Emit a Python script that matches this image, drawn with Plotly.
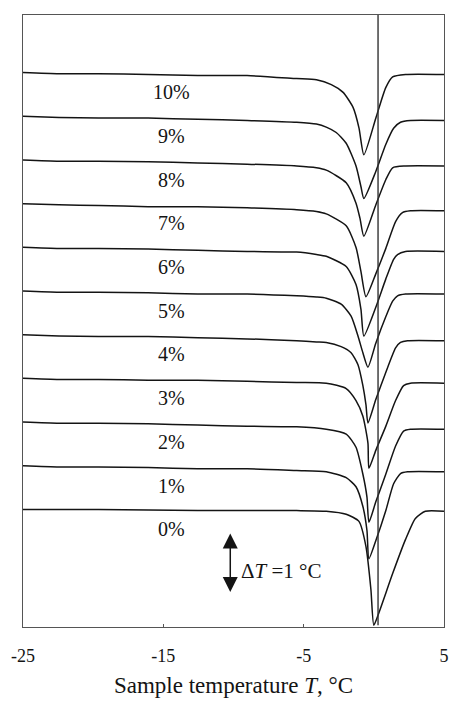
import plotly.graph_objects as go

# Water content of each sample, % (top curve = 10 %)
concentrations = [10, 9, 8, 7, 6, 5, 4, 3, 2, 1, 0]

# Temperature (deg C) and thermal signal dT (deg C, relative to each curve's own baseline)
t_10 = [-25, -22.43, -19.61, -16.08, -12.55, -9.03, -5.50, -4.09, -3.03, -2.19, -1.48, -1.06, -0.71, 0.14, 0.85, 1.34, 2.26, 5.0]
dt_10 = [0, -0.02, -0.02, -0.03, -0.05, -0.05, -0.10, -0.12, -0.20, -0.33, -0.58, -0.92, -1.37, -0.76, -0.25, -0.07, -0.03, -0.03]

t_9 = [-25, -22.43, -19.61, -16.08, -12.55, -9.03, -5.50, -4.09, -3.39, -2.68, -1.97, -1.27, -0.92, -0.71, 0.14, 0.85, 1.41, 1.90, 2.61, 5.0]
dt_9 = [0, -0.02, -0.03, -0.03, -0.05, -0.07, -0.10, -0.13, -0.18, -0.27, -0.45, -0.83, -1.17, -1.37, -0.92, -0.47, -0.20, -0.10, -0.07, -0.07]

t_8 = [-25, -22.43, -19.61, -16.08, -12.55, -9.03, -5.50, -4.09, -3.39, -1.97, -1.27, -0.99, -0.71, 0.14, 0.85, 1.34, 2.26, 5.0]
dt_8 = [0, -0.02, -0.02, -0.03, -0.05, -0.07, -0.10, -0.13, -0.17, -0.38, -0.72, -0.97, -1.27, -0.75, -0.33, -0.13, -0.10, -0.10]

t_7 = [-25, -22.43, -19.61, -16.08, -12.55, -9.03, -5.50, -4.09, -3.39, -1.97, -1.27, -0.92, -0.56, 0.14, 0.85, 1.55, 2.04, 2.61, 5.0]
dt_7 = [0, -0.02, -0.03, -0.05, -0.05, -0.07, -0.10, -0.13, -0.17, -0.37, -0.73, -1.13, -1.55, -1.17, -0.75, -0.30, -0.15, -0.12, -0.12]

t_6 = [-25, -22.43, -19.61, -16.08, -12.55, -9.03, -5.50, -4.09, -3.39, -1.97, -1.27, -0.92, -0.71, 0.14, 0.85, 1.41, 1.69, 2.26, 5.0]
dt_6 = [0, -0.02, -0.02, -0.03, -0.05, -0.07, -0.08, -0.12, -0.15, -0.32, -0.62, -1.03, -1.48, -1.00, -0.53, -0.20, -0.12, -0.07, -0.07]

t_5 = [-25, -22.43, -19.61, -16.08, -12.55, -9.03, -5.50, -4.09, -3.39, -2.33, -1.62, -1.13, -0.78, -0.42, 0.14, 0.85, 1.34, 1.69, 2.26, 5.0]
dt_5 = [0, -0.02, -0.02, -0.03, -0.05, -0.05, -0.08, -0.10, -0.12, -0.22, -0.42, -0.75, -1.03, -1.27, -0.87, -0.43, -0.17, -0.08, -0.05, -0.05]

t_4 = [-25, -22.43, -19.61, -16.08, -12.55, -9.03, -5.50, -4.09, -3.39, -2.33, -1.62, -1.13, -0.78, -0.56, -0.42, 0.14, 0.85, 1.55, 1.90, 2.40, 5.0]
dt_4 = [0, -0.02, -0.03, -0.03, -0.05, -0.07, -0.10, -0.12, -0.13, -0.20, -0.30, -0.50, -0.85, -1.17, -1.47, -1.08, -0.63, -0.22, -0.13, -0.10, -0.10]

t_3 = [-25, -22.43, -19.61, -16.08, -12.55, -9.03, -5.50, -3.39, -1.97, -1.27, -0.78, -0.42, -0.35, 0.14, 0.85, 1.55, 2.12, 2.61, 5.0]
dt_3 = [0, -0.02, -0.02, -0.03, -0.03, -0.05, -0.07, -0.08, -0.17, -0.37, -0.63, -1.08, -1.50, -1.20, -0.80, -0.37, -0.12, -0.08, -0.08]

t_2 = [-25, -22.43, -19.61, -16.08, -12.55, -9.03, -5.50, -3.39, -1.97, -1.27, -0.78, -0.49, -0.35, 0.14, 0.85, 1.55, 2.12, 2.61, 5.0]
dt_2 = [0, -0.02, -0.02, -0.03, -0.05, -0.07, -0.08, -0.12, -0.20, -0.42, -0.87, -1.25, -1.67, -1.33, -0.87, -0.40, -0.15, -0.12, -0.12]

t_1 = [-25, -22.43, -19.61, -16.08, -12.55, -9.03, -5.50, -3.39, -1.97, -1.27, -0.78, -0.49, -0.35, 0.14, 0.85, 1.41, 1.90, 2.40, 5.0]
dt_1 = [0, -0.02, -0.02, -0.03, -0.05, -0.05, -0.08, -0.10, -0.20, -0.35, -0.68, -1.08, -1.55, -1.25, -0.75, -0.30, -0.13, -0.10, -0.10]

t_0 = [-25, -19.61, -12.55, -5.50, -3.39, -1.97, -1.06, -0.56, -0.21, 0.00, 0.35, 1.34, 2.26, 2.96, 3.67, 5.0]
dt_0 = [0, 0, -0.02, -0.02, -0.03, -0.08, -0.20, -0.62, -1.33, -1.93, -1.73, -1.07, -0.50, -0.15, -0.03, -0.03]

temps = [t_10, t_9, t_8, t_7, t_6, t_5, t_4, t_3, t_2, t_1, t_0]
signals = [dt_10, dt_9, dt_8, dt_7, dt_6, dt_5, dt_4, dt_3, dt_2, dt_1, dt_0]

# Axis ticks
x_tickvals = [-25, -15, -5, 5]
x_ticktext = ["-25", "-15", "-5", "5"]

# Reference line temperature and scale bar size
ref_line_T = 0.3
scale_bar_dT = 1.0

# Layout constants
curve_spacing = 0.728        # vertical offset between neighbouring curves, deg C per 1 %
label_T = -14.45             # x position of the % labels
label_drop = 0.33            # label distance under its curve
bar_T = -10.23               # x position of the scale bar
bar_top = -0.377
y_range = [-1.96, 8.24]

serif = "Liberation Serif, Times New Roman, serif"
ink = "#141414"

fig = go.Figure()

for conc, t, s in zip(concentrations, temps, signals):
    offset = conc * curve_spacing
    fig.add_trace(go.Scatter(
        x=t,
        y=[v + offset for v in s],
        mode="lines",
        line=dict(color=ink, width=1.5, shape="spline", smoothing=0.6),
        name=f"{conc}%",
        showlegend=False,
        hoverinfo="skip",
    ))
    fig.add_annotation(
        x=label_T, y=offset - label_drop, text=f"{conc}%",
        showarrow=False, xanchor="center", yanchor="middle",
        font=dict(family=serif, size=20, color=ink),
    )

# Vertical reference line
fig.add_shape(
    type="line", xref="x", yref="y",
    x0=ref_line_T, x1=ref_line_T, y0=min(dt_0), y1=y_range[1],
    line=dict(color="#333333", width=1.4),
)

# Double-headed scale bar for dT = 1 deg C
fig.add_annotation(
    x=bar_T, y=bar_top - scale_bar_dT, ax=bar_T, ay=bar_top,
    xref="x", yref="y", axref="x", ayref="y",
    text="", showarrow=True, arrowside="end+start",
    arrowhead=2, startarrowhead=2, arrowsize=2, startarrowsize=2,
    arrowwidth=1.5, arrowcolor=ink,
)
fig.add_annotation(
    x=bar_T + 0.62, y=bar_top - scale_bar_dT * 0.65,
    text=f"Δ<i>T</i> ={scale_bar_dT:g} °C",
    showarrow=False, xanchor="left", yanchor="middle",
    font=dict(family=serif, size=21, color=ink),
)

fig.update_layout(
    width=455, height=702,
    margin=dict(l=23, r=6, t=15, b=75),
    paper_bgcolor="white", plot_bgcolor="white",
    xaxis=dict(
        range=[-25, 5], tickvals=x_tickvals, ticktext=x_ticktext,
        showgrid=False, zeroline=False,
        showline=True, mirror=True, linecolor="#555555", linewidth=1,
        ticks="inside", ticklen=3, tickcolor="#555555",
        ticklabelstandoff=12,
        tickfont=dict(family=serif, size=18, color=ink),
        title=dict(text="Sample temperature <i>T</i>, °C",
                   font=dict(family=serif, size=23, color=ink), standoff=12),
    ),
    yaxis=dict(
        range=y_range, showticklabels=False, ticks="",
        showgrid=False, zeroline=False,
        showline=True, mirror=True, linecolor="#555555", linewidth=1,
    ),
)

fig.write_html("out.html")
